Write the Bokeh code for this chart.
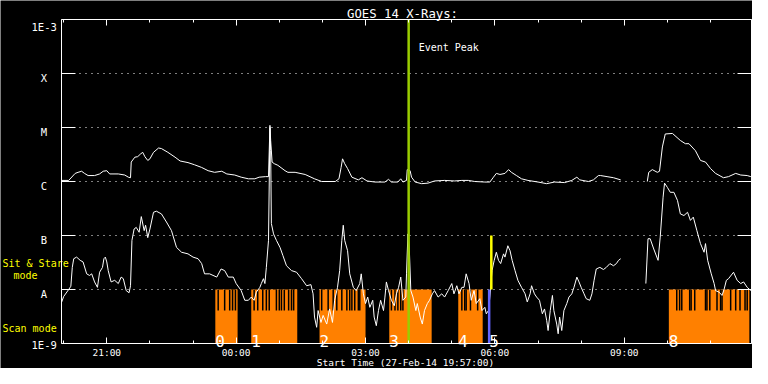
import numpy as np
from bokeh.plotting import figure
from bokeh.models import Range1d, LinearAxis, FixedTicker
from bokeh.core.properties import value
from bokeh.embed import file_html
from bokeh.resources import INLINE

nan = float("nan")

# ---------------- data ----------------
title_text = "GOES 14 X-Rays:"
x_title = "Start Time (27-Feb-14 19:57:00)"

# time axis: minutes since 27-Feb-14 19:57:00
t_end = 960
tick_minutes = [63, 243, 423, 603, 783]
tick_labels = ["21:00", "00:00", "03:00", "06:00", "09:00"]
hour_minutes = [3, 63, 123, 183, 243, 303, 363, 423, 483, 543, 603, 663, 723, 783, 843, 903]

# flux axis: log10(W/m^2)
level_values = [-9, -8, -7, -6, -5, -4, -3]
level_labels = ["1E-9", "A", "B", "C", "M", "X", "1E-3"]
class_levels = [-8, -7, -6, -5, -4]
class_labels = ["A", "B", "C", "M", "X"]

# long channel (1-8 A)
t_long = [
    0, 10, 19, 23, 28, 32, 37, 46, 53, 58,
    63, 67, 79, 88, 93, 96, 97, 102, 106, 110,
    113, 116, 120, 123, 128, 135, 139, 148, 158, 165,
    176, 185, 195, 204, 213, 223, 230, 241, 250, 260,
    269, 275, 284, 288, 290, 291, 293, 296, 301, 311,
    315, 325, 339, 352, 362, 381, 386, 389, 391, 394,
    398, 404, 413, 418, 425, 436, 450, 455, 459, 468,
    472, 475, 480, 481, 485, 487, 492, 501, 510, 519,
    533, 547, 557, 566, 575, 589, 596, 601, 605, 610,
    617, 622, 626, 633, 640, 649, 663, 675, 686, 700,
    710, 717, 721, 733, 740, 747, 750, 759, 768, 778,
    nan, 815, 817, 822, 829, 832, 836, 840, 850, 861,
    868, 873, 882, 889, 896, 903, 910, 921, 928, 938,
    945, 954, 959]
logf_long = [
    -5.98, -5.98, -5.85, -5.83, -5.81, -5.85, -5.89, -5.89, -5.86, -5.81,
    -5.80, -5.86, -5.86, -5.88, -5.92, -5.93, -5.64, -5.55, -5.54, -5.49,
    -5.46, -5.54, -5.61, -5.58, -5.46, -5.38, -5.39, -5.46, -5.55, -5.62,
    -5.65, -5.69, -5.74, -5.80, -5.83, -5.81, -5.86, -5.88, -5.92, -5.95,
    -5.95, -5.92, -5.91, -5.91, -4.96, -5.24, -5.64, -5.67, -5.70, -5.80,
    -5.83, -5.83, -5.87, -5.95, -6.00, -6.00, -5.95, -5.74, -5.58, -5.67,
    -5.76, -5.92, -5.97, -5.93, -5.99, -6.01, -6.01, -5.96, -6.01, -6.01,
    -5.95, -6.01, -5.98, -5.78, -5.80, -5.92, -6.01, -6.04, -6.03, -5.99,
    -5.98, -5.99, -5.98, -5.98, -6.00, -6.01, -6.01, -5.92, -5.85, -5.87,
    -5.85, -5.78, -5.83, -5.89, -5.95, -5.98, -6.01, -6.04, -6.01, -6.02,
    -5.98, -5.92, -5.97, -6.00, -5.97, -5.89, -5.89, -5.91, -5.93, -5.97,
    nan, -6.00, -5.83, -5.78, -5.83, -5.81, -5.36, -5.12, -5.11, -5.24,
    -5.30, -5.30, -5.43, -5.61, -5.64, -5.76, -5.85, -5.93, -5.91, -5.85,
    -5.88, -5.89, -5.91]

# short channel (0.5-4 A)
t_short = [
    0, 3, 10, 13, 15, 17, 21, 26, 30, 35,
    39, 42, 46, 50, 53, 57, 59, 61, 63, 65,
    69, 74, 79, 83, 86, 90, 94, 96, 98, 101,
    104, 108, 111, 115, 117, 120, 123, 128, 132, 139,
    146, 153, 160, 167, 176, 183, 190, 195, 199, 206,
    216, 222, 227, 232, 239, 243, 250, 255, 260, 264,
    268, 271, 276, 278, 281, 283, 285, 288, 290, 291,
    292, 295, 299, 304, 308, 313, 320, 327, 334, 341,
    347, 350, 352, 355, 357, 361, 364, 369, 373, 377,
    380, 384, 387, 390, 392, 394, 398, 401, 406, 410,
    415, 417, 420, 423, 426, 429, 433, 435, 438, 441,
    444, 448, 450, 452, 455, 459, 463, 466, 469, 472,
    475, 479, 480, 482, 484, 486, 489, 493, 495, 499,
    502, 505, 509, 512, 516, 519, 524, 529, 533, 538,
    543, 546, 550, 553, 557, 560, 563, 567, 570, 574,
    577, 582, 585, 589, 591, 594, 596, 599, 602, 605,
    608, 611, 615, 617, 621, 624, 627, 631, 635, 640,
    645, 648, 652, 654, 658, 661, 665, 669, 672, 675,
    677, 680, 683, 685, 689, 691, 693, 696, 699, 703,
    706, 710, 713, 717, 720, 723, 727, 730, 735, 738,
    741, 744, 749, 754, 758, 763, 768, 772, 775, 778,
    nan, 813, 816, 819, 824, 830, 833, 837, 839, 843,
    847, 852, 857, 861, 866, 871, 875, 879, 884, 889,
    894, 896, 899, 904, 908, 910, 915, 919, 922, 925,
    928, 935, 940, 945, 949, 954, 959]
logf_short = [
    -8.24, -8.13, -8.00, -7.94, -7.59, -7.43, -7.40, -7.46, -7.49, -7.71,
    -7.74, -7.71, -7.86, -7.96, -7.68, -7.59, -7.43, -7.40, -7.49, -7.65,
    -7.86, -7.83, -7.89, -7.77, -7.80, -8.02, -8.06, -7.93, -7.09, -6.88,
    -6.85, -6.94, -6.65, -6.91, -6.81, -7.04, -6.88, -6.57, -6.55, -6.60,
    -6.75, -6.91, -7.22, -7.31, -7.34, -7.40, -7.43, -7.52, -7.71, -7.71,
    -7.77, -7.62, -7.65, -7.77, -7.77, -7.89, -8.02, -8.20, -8.20, -8.14,
    -8.20, -8.05, -7.96, -7.89, -7.80, -7.89, -7.59, -7.09, -5.00, -5.43,
    -6.78, -6.97, -7.09, -7.22, -7.37, -7.56, -7.65, -7.68, -7.80, -7.93,
    -7.91, -8.08, -8.51, -8.70, -8.39, -8.61, -8.48, -8.64, -8.36, -8.61,
    -8.20, -7.96, -7.65, -7.09, -6.81, -7.09, -7.28, -7.71, -7.96, -8.02,
    -7.89, -7.71, -8.08, -8.26, -8.14, -8.33, -8.20, -8.51, -8.67, -8.39,
    -8.20, -8.39, -8.14, -7.86, -8.02, -8.20, -8.30, -8.08, -7.96, -7.77,
    -8.20, -8.14, -7.71, -6.97, -7.28, -8.02, -8.14, -8.39, -8.26, -8.51,
    -8.64, -8.39, -8.26, -8.20, -8.08, -8.02, -8.14, -8.08, -8.14, -8.02,
    -7.89, -8.08, -7.93, -8.08, -7.96, -7.96, -7.71, -7.89, -8.20, -8.02,
    -8.26, -8.17, -8.39, -8.33, -8.45, -8.39, -8.14, -7.65, -7.46, -7.31,
    -7.46, -7.52, -7.34, -7.40, -7.19, -7.28, -7.46, -7.65, -7.83, -7.96,
    -8.08, -8.23, -8.08, -7.93, -8.08, -8.14, -8.20, -8.45, -8.36, -8.57,
    -8.76, -8.39, -8.11, -8.39, -8.64, -8.82, -8.51, -8.76, -8.39, -8.26,
    -8.14, -8.08, -7.96, -7.77, -7.86, -7.96, -8.08, -8.17, -8.20, -8.08,
    -7.83, -7.62, -7.59, -7.63, -7.59, -7.52, -7.56, -7.52, -7.46, -7.43,
    nan, -7.89, -7.06, -7.06, -7.25, -7.46, -7.03, -6.29, -6.03, -6.11,
    -6.20, -6.20, -6.35, -6.60, -6.63, -6.57, -6.72, -6.66, -6.91, -7.15,
    -7.31, -7.15, -7.46, -7.71, -7.89, -8.02, -8.05, -8.11, -7.99, -7.83,
    -7.80, -7.68, -7.83, -7.89, -7.86, -7.96, -8.02]

# scan-mode intervals (minutes since start) and their numbers
scan_start = [214, 264, 359, 456, 552, 845]
scan_end = [245, 328, 423, 515, 586, 957]
scan_ids = ["0", "1", "2", "3", "4", "8"]
# black gaps inside the scan strips
scan_gaps = [218, 227, 234, 238, 242,
             268, 273, 280, 285, 289, 299, 303, 306, 310, 316, 320, 323,
             362, 371, 378, 383, 390, 397, 401, 404, 408, 413, 415,
             459, 464, 468, 472, 475,
             557, 561, 563, 569, 579,
             856, 860, 863, 874, 876, 881, 896, 898, 902, 912, 917, 919,
             931, 938, 944, 951, 954]
# sit & stare marker (id 5)
stare_id = "5"
stare_time = 595
stare_flag_time = 598
event_peak = 483
event_label = "Event Peak"
mode_labels = ["Sit & Stare", "mode", "Scan mode"]

# ---------------- layout helpers (pixel geometry of the plot box) ----------------
W, H = 752, 368
BOX_L, BOX_T = 61, 19           # plot box left / top (px)
PX_PER_MIN = 690 / t_end         # box is 690 px wide
PX_PER_DEC = 54                  # 6 decades over 324 px

def xd(px):
    return (px - BOX_L) / PX_PER_MIN

def yd(py):
    return level_values[-1] - (py - BOX_T) / PX_PER_DEC

FONT = "DejaVu Sans Mono"
ORANGE = "#ff8000"
GREEN = "#9acd00"
BLUE = "#6464ff"
YELLOW = "#ffff00"

p = figure(width=W, height=H, output_backend="svg", toolbar_location=None,
           x_range=Range1d(xd(0), xd(W)), y_range=Range1d(yd(H), yd(0)),
           x_axis_type=None, y_axis_type=None,
           min_border_left=0, min_border_right=0, min_border_top=0, min_border_bottom=0,
           background_fill_color="black", border_fill_color="black",
           outline_line_color=None)
p.xgrid.visible = False
p.ygrid.visible = False

def x_axis(side, loc, labels):
    ax = LinearAxis(ticker=FixedTicker(ticks=tick_minutes, minor_ticks=hour_minutes),
                    fixed_location=loc, bounds=(0, t_end))
    ax.axis_line_color = "white"
    ax.major_tick_line_color = "white"
    ax.minor_tick_line_color = "white"
    ax.major_tick_in = 6
    ax.major_tick_out = 0
    ax.minor_tick_in = 3
    ax.minor_tick_out = 0
    if labels:
        ax.major_label_overrides = dict(zip(tick_minutes, tick_labels))
        ax.major_label_text_color = "white"
        ax.major_label_text_font = FONT
        ax.major_label_text_font_size = "9.5px"
        ax.major_label_standoff = 3
    else:
        ax.major_label_overrides = {t: "" for t in tick_minutes}
        ax.major_label_text_font_size = "0px"
        ax.major_label_standoff = 0
    p.add_layout(ax, side)

def y_axis(side, loc):
    ax = LinearAxis(ticker=FixedTicker(ticks=level_values, minor_ticks=[]),
                    fixed_location=loc, bounds=(level_values[0], level_values[-1]))
    ax.axis_line_color = "white"
    ax.major_tick_line_color = "white"
    ax.major_tick_in = 14
    ax.major_tick_out = 0
    ax.minor_tick_in = 0
    ax.minor_tick_out = 0
    ax.major_label_overrides = {v: "" for v in level_values}
    ax.major_label_text_font_size = "0px"
    ax.major_label_standoff = 0
    p.add_layout(ax, side)

x_axis("below", level_values[0], True)
x_axis("above", level_values[-1], False)
y_axis("left", 0)
y_axis("right", t_end)

# dotted class levels
p.segment(x0=[0] * len(class_levels), x1=[t_end] * len(class_levels),
          y0=class_levels, y1=class_levels, line_color="white", line_dash="1 5", line_width=1)

# scan-mode strips
scan_top = class_levels[0]            # A level
scan_split = yd(310)                  # lower edge of the gap strip
p.quad(left=scan_start, right=scan_end, bottom=level_values[0], top=scan_top,
       fill_color=ORANGE, line_color=None)
p.segment(x0=scan_gaps, x1=scan_gaps, y0=[scan_top] * len(scan_gaps),
          y1=[scan_split] * len(scan_gaps), line_color="black", line_width=1.5)

# curves
p.line(np.array(t_long, float), np.array(logf_long, float), line_color="white", line_width=1)
p.line(np.array(t_short, float), np.array(logf_short, float), line_color="white", line_width=1)

# sit & stare markers
p.segment(x0=[stare_time], x1=[stare_time], y0=[level_values[0]], y1=[scan_top],
          line_color=BLUE, line_width=2.5)
p.segment(x0=[stare_flag_time], x1=[stare_flag_time], y0=[scan_top], y1=[class_levels[1]],
          line_color=YELLOW, line_width=2.5)

# event peak
p.segment(x0=[event_peak], x1=[event_peak], y0=[level_values[0]], y1=[level_values[-1]],
          line_color=GREEN, line_width=2.5)
p.text(x=[event_peak + xd(BOX_L + 10)], y=[yd(47.3)], text=[event_label],
       text_color="white", text_font=value(FONT), text_font_size="10px",
       text_baseline="alphabetic", text_align="left")

# scan numbers
num_y = yd(340.7)
p.text(x=scan_start + [stare_time], y=[num_y] * (len(scan_start) + 1),
       text=scan_ids + [stare_id], text_color="white", text_font=value(FONT),
       text_font_size="16px", text_baseline="alphabetic", text_align="left")

# y labels (class letters and decade limits)
cls_y = [lv - 4.7 / PX_PER_DEC for lv in class_levels]
p.text(x=[xd(43.5)] * len(class_levels), y=cls_y, text=class_labels,
       text_color="white", text_font=value(FONT), text_font_size="10.5px",
       text_baseline="alphabetic", text_align="center")
p.text(x=[xd(44), xd(44)], y=[level_values[-1] - 7.7 / PX_PER_DEC, level_values[0] - 1 / PX_PER_DEC],
       text=[level_labels[-1], level_labels[0]],
       text_color="white", text_font=value(FONT), text_font_size="10.5px",
       text_baseline="alphabetic", text_align="left", x_offset=-13)

# x axis title
p.text(x=[xd(405)], y=[yd(362)], text=[x_title],
       text_color="white", text_font=value(FONT), text_font_size="9.5px",
       text_baseline="alphabetic", text_align="center")

# mode labels
p.text(x=[xd(2), xd(13), xd(2)], y=[yd(263), yd(275), yd(328)], text=mode_labels,
       text_color=YELLOW, text_font=value(FONT), text_font_size="10px",
       text_baseline="alphabetic", text_align="left")

# title
p.text(x=[xd(402)], y=[yd(13.3)], text=[title_text],
       text_color="white", text_font=value(FONT), text_font_size="12.3px",
       text_baseline="alphabetic", text_align="center")

open("out.html", "w").write(file_html(p, INLINE))
